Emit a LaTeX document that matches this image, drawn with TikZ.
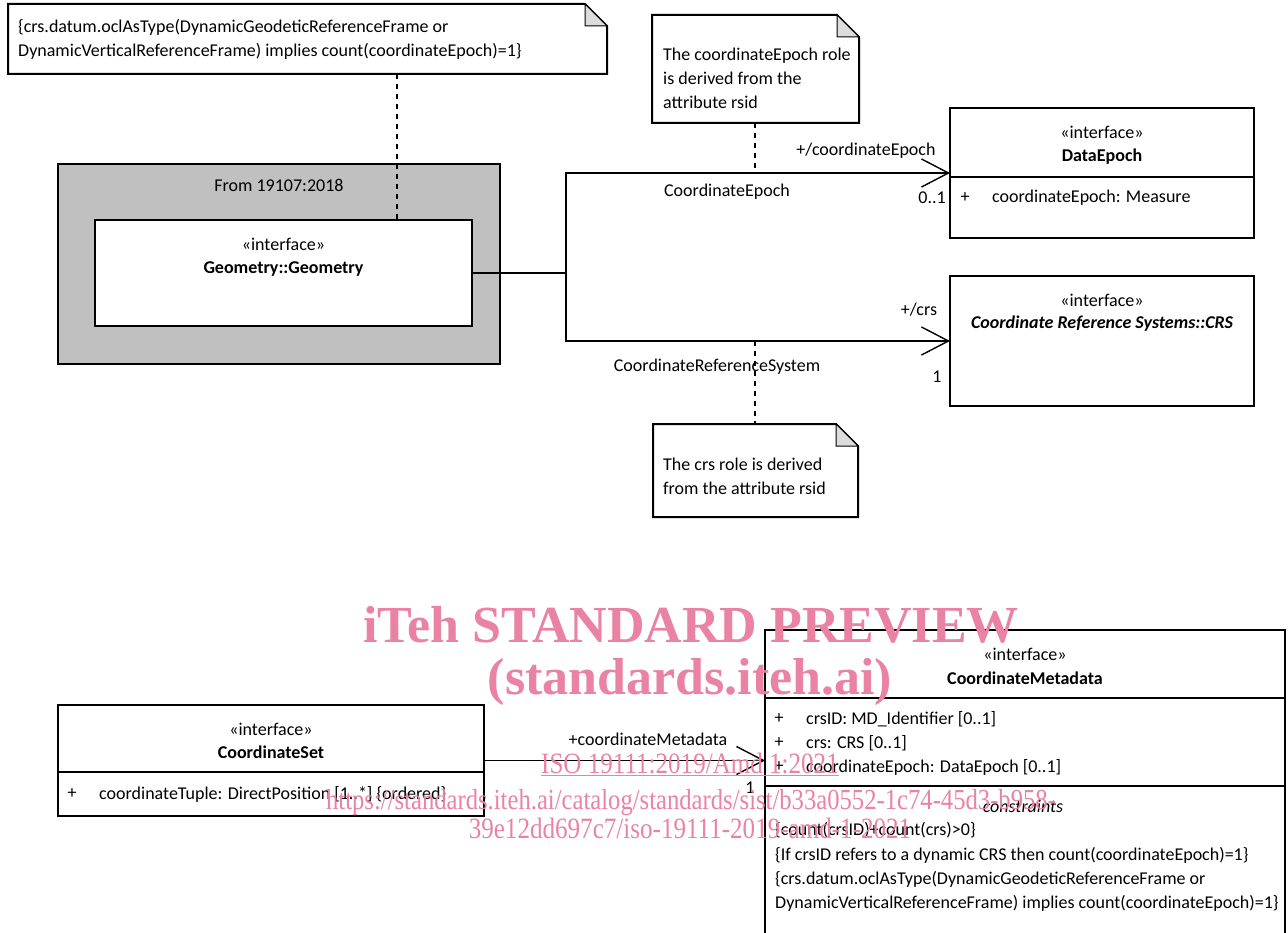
\documentclass[tikz,border=0pt]{standalone}
\usepackage{fontspec}
\setmainfont{Carlito}
\newfontfamily\wmfont{Liberation Serif}
\usetikzlibrary{arrows.meta,calc}
\definecolor{pkggray}{RGB}{192,192,192}
\definecolor{foldgray}{RGB}{220,220,220}
\definecolor{wmpink}{RGB}{234,130,164}
\tikzset{
  every node/.style={font=\fontsize{18}{24}\selectfont},
  umlbox/.style={draw,line width=1.4pt,fill=white,inner sep=0pt,outer sep=0pt,anchor=north west},
  notebox/.style={inner sep=0pt,outer sep=0pt,anchor=north west},
  noteline/.style={line width=2pt},
  assoc/.style={line width=1.4pt,-{Straight Barb[length=27pt,width=28pt,line width=1.4pt]}},
  plainline/.style={line width=1.4pt},
  dashline/.style={line width=1.3pt,dash pattern=on 5pt off 5pt},
  txt/.style={inner sep=0pt,anchor=center},
  ltxt/.style={inner sep=0pt,anchor=west},
  wm/.style={text=wmpink,inner sep=0pt}
}
\newcommand{\notepath}[1]{%
  \fill[white] (#1.north west) -- ($(#1.north east)+(-22,0)$) -- ($(#1.north east)+(0,22)$) -- (#1.south east) -- (#1.south west) -- cycle;
  \draw[noteline] (#1.north west) -- ($(#1.north east)+(-22,0)$) -- ($(#1.north east)+(0,22)$) -- (#1.south east) -- (#1.south west) -- cycle;
  \filldraw[fill=foldgray,line width=1pt] ($(#1.north east)+(-22,0)$) -- ($(#1.north east)+(-22,22)$) -- ($(#1.north east)+(0,22)$) -- cycle;}
\begin{document}
\begin{tikzpicture}[x=1pt,y=-1pt]
\useasboundingbox (0,0) rectangle (1288,933);
% package
\node[umlbox,fill=pkggray,minimum width=442pt,minimum height=200pt] (pkg) at (58,164) {};
\node[txt] (pkglbl) at (279,185) {From 19107:2018};
\node[umlbox,minimum width=377pt,minimum height=106pt] (geo) at (95,220) {};
\node[txt] (geos) at (283.5,244) {«interface»};
\node[txt] (geon) at (283.5,269) {\bfseries Geometry::Geometry};
% note 1
\node[notebox,minimum width=599pt,minimum height=70pt] (n1) at (8,4) {};
\notepath{n1}
\node[ltxt,align=left] (n1t) at (18,39) {\{crs.datum.oclAsType(DynamicGeodeticReferenceFrame or\\DynamicVerticalReferenceFrame) implies count(coordinateEpoch)=1\}};
\draw[dashline] (n1.south -| 397,0) -- (geo.north -| 397,0);
% note 2
\node[notebox,minimum width=207pt,minimum height=108pt] (n2) at (652,15) {};
\notepath{n2}
\node[ltxt,align=left] (n2t) at (663,78) {The coordinateEpoch role\\is derived from the\\attribute rsid};
% note 3
\node[notebox,minimum width=205pt,minimum height=93pt] (n3) at (653,424) {};
\notepath{n3}
\node[ltxt,align=left] (n3t) at (663,476) {The crs role is derived\\from the attribute rsid};
% DataEpoch
\node[umlbox,minimum width=304pt,minimum height=130pt] (de) at (950,108) {};
\draw[plainline] (950,177) -- (1254,177);
\node[txt] (des) at (1102,132) {«interface»};
\node[txt] (den) at (1102,157) {\bfseries DataEpoch};
\node[txt] (dep) at (965,198) {+};
\node[ltxt] (dea) at (992,198) {coordinateEpoch: Measure};
% CRS
\node[umlbox,minimum width=304pt,minimum height=130pt] (crs) at (950,276) {};
\node[txt] (crss) at (1102,300) {«interface»};
\node[txt] (crsn) at (1102,324) {\bfseries\itshape Coordinate Reference Systems::CRS};
% associations
\draw[plainline] (geo.east) -- ++(94,0) coordinate (j);
\draw[assoc] (j) |- (de.west);
\draw[assoc] (j) |- (crs.west);
\draw[dashline] (n2.south -| 755,0) -- (de.west -| 755,0);
\draw[dashline] (crs.west -| 755,0) -- (n3.north -| 755,0);
\node[txt] (l1) at (866,151) {+/coordinateEpoch};
\node[txt] (l2) at (727,192) {CoordinateEpoch};
\node[txt,anchor=east] (l3) at (946,198) {0..1};
\node[txt] (l4) at (919,310) {+/crs};
\node[txt] (l5) at (717,367) {CoordinateReferenceSystem};
\node[txt] (l6) at (937,377) {1};
% CoordinateSet
\node[umlbox,minimum width=426pt,minimum height=111pt] (cs) at (58,705) {};
\draw[plainline] (58,772) -- (484,772);
\node[txt] (css) at (271,729) {«interface»};
\node[txt] (csn) at (271,752) {\bfseries CoordinateSet};
\node[txt] (csp) at (72,794) {+};
\node[ltxt] (csa) at (99,794) {coordinateTuple: DirectPosition [1..*] \{ordered\}};
% CoordinateMetadata
\node[umlbox,minimum width=520pt,minimum height=304pt] (cm) at (765,630) {};
\draw[plainline] (765,698) -- (1285,698);
\draw[plainline] (765,786) -- (1285,786);
\node[txt] (cms) at (1025,654) {«interface»};
\node[txt] (cmn) at (1025,678) {\bfseries CoordinateMetadata};
\node[txt] (cmp1) at (779,719) {+};
\node[ltxt] (cma1) at (806,719) {crsID: MD\_Identifier [0..1]};
\node[txt] (cmp2) at (779,743) {+};
\node[ltxt] (cma2) at (806,743) {crs: CRS [0..1]};
\node[txt] (cmp3) at (779,767) {+};
\node[ltxt] (cma3) at (806,767) {coordinateEpoch: DataEpoch [0..1]};
\node[txt] (cmc) at (1023,806) {\itshape constraints};
\node[ltxt] (cc1) at (775,830) {\{count(crsID)+count(crs)>0\}};
\node[ltxt] (cc2) at (775,855) {\{If crsID refers to a dynamic CRS then count(coordinateEpoch)=1\}};
\node[ltxt] (cc3) at (775,879) {\{crs.datum.oclAsType(DynamicGeodeticReferenceFrame or};
\node[ltxt] (cc4) at (775,903) {DynamicVerticalReferenceFrame) implies count(coordinateEpoch)=1\}};
\draw[assoc] (cs.east) -- (cs.east -| cm.west);
\node[txt] (l7) at (648,739) {+coordinateMetadata};
\node[txt] (l8) at (750,788) {1};
% watermark
\node[wm,font=\wmfont\bfseries\fontsize{52}{56}\selectfont] (wm1) at (691,625) {iTeh STANDARD PREVIEW};
\node[wm,font=\wmfont\bfseries\fontsize{52}{56}\selectfont] (wm2) at (690,682) {(standards.iteh.ai)};
\node[wm,font=\wmfont\fontsize{29.5}{32}\selectfont,xscale=0.85,transform shape] (wm3) at (690,764) {\underline{ISO 19111:2019/Amd 1:2021}};
\node[wm,font=\wmfont\fontsize{29}{32}\selectfont,xscale=0.85,transform shape] (wm4) at (691,803) {https://standards.iteh.ai/catalog/standards/sist/b33a0552-1c74-45d3-b958-};
\node[wm,font=\wmfont\fontsize{29.5}{32}\selectfont,xscale=0.85,transform shape] (wm5) at (690,828) {39e12dd697c7/iso-19111-2019-amd-1-2021};
\end{tikzpicture}
\end{document}
